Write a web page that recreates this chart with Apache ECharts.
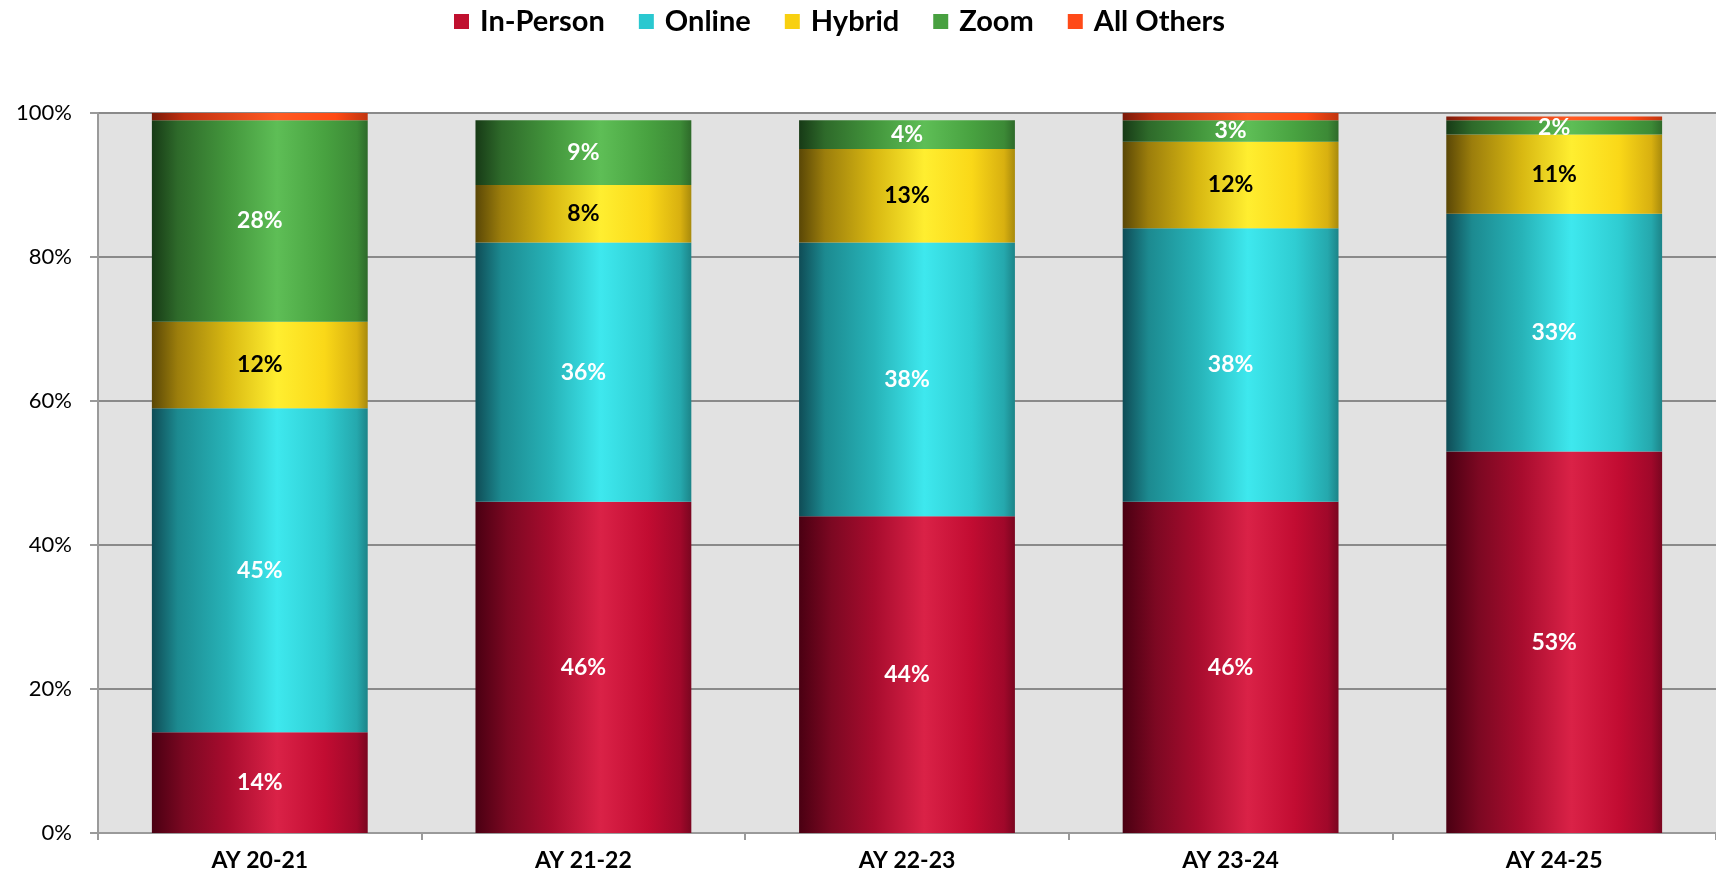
<!DOCTYPE html>
<html>
<head>
<meta charset="utf-8">
<style>
html,body{margin:0;padding:0;background:#fff;}
#chart{width:1716px;height:881px;}
</style>
<script src="https://cdn.jsdelivr.net/npm/echarts@6/dist/echarts.min.js"></script>
</head>
<body>
<div id="chart"></div>
<script>
const categories = ['AY 20-21', 'AY 21-22', 'AY 22-23', 'AY 23-24', 'AY 24-25'];
const inPerson = [14, 46, 44, 46, 53];
const online = [45, 36, 38, 38, 33];
const hybrid = [12, 8, 13, 12, 11];
const zoom = [28, 9, 4, 3, 2];
const allOthers = [1, 0, 0, 1, 0.5];
const yTicks = [0, 20, 40, 60, 80, 100];

const FONT = 'Lato, "Open Sans", sans-serif';

function grad(stops) {
  return {
    type: 'linear', x: 0, y: 0, x2: 1, y2: 0,
    colorStops: stops.map(s => ({ offset: s[0], color: s[1] }))
  };
}

const styles = {
  'In-Person': { legend: '#c0102f', text: '#ffffff', g: grad([[0, '#4a0012'], [0.15, '#7c0822'], [0.35, '#a80c2e'], [0.58, '#da2247'], [0.8, '#c20c32'], [0.95, '#a0082a'], [1, '#7a0620']]) },
  'Online': { legend: '#2ac8d0', text: '#ffffff', g: grad([[0, '#0f4c56'], [0.12, '#1c8a90'], [0.35, '#27b3b8'], [0.58, '#3ee8ee'], [0.8, '#2fcdd2'], [0.95, '#25a8ad'], [1, '#1c8488']]) },
  'Hybrid': { legend: '#f8d010', text: '#000000', g: grad([[0, '#5a4706'], [0.12, '#9c7e0c'], [0.35, '#d8b812'], [0.58, '#ffee30'], [0.8, '#fad818'], [0.95, '#d8b010'], [1, '#a88a0c']]) },
  'Zoom': { legend: '#48a040', text: '#ffffff', g: grad([[0, '#173a16'], [0.12, '#2e6a2a'], [0.35, '#43963c'], [0.58, '#5ebe56'], [0.8, '#48a240'], [0.95, '#3c8a36'], [1, '#2e6a2a']]) },
  'All Others': { legend: '#ff4a18', text: '#ffffff', g: grad([[0, '#7a1a08'], [0.15, '#c03010'], [0.58, '#ff5a22'], [0.85, '#ff4a14'], [1, '#c03510']]) }
};

const seriesData = [
  ['In-Person', inPerson],
  ['Online', online],
  ['Hybrid', hybrid],
  ['Zoom', zoom],
  ['All Others', allOthers]
];

const series = seriesData.map(([name, data]) => ({
  name: name,
  type: 'bar',
  stack: 'total',
  barWidth: '66.7%',
  data: data,
  itemStyle: { color: styles[name].g },
  label: {
    show: name !== 'All Others',
    position: 'inside',
    color: styles[name].text,
    fontFamily: FONT,
    fontWeight: 'bold',
    fontSize: 23,
    formatter: p => (p.value >= 2 ? Math.round(p.value) + '%' : '')
  },
  emphasis: { disabled: true }
}));

const chart = echarts.init(document.getElementById('chart'), null, { renderer: 'canvas' });
chart.setOption({
  animation: false,
  backgroundColor: '#ffffff',
  legend: {
    top: 2,
    left: 449,
    icon: 'rect',
    itemWidth: 15,
    itemHeight: 15,
    itemGap: 34,
    textStyle: { fontFamily: FONT, fontWeight: 'bold', fontSize: 29, color: '#000', padding: [0, 0, 0, 6] },
    data: seriesData.map(([name]) => ({ name: name, itemStyle: { color: styles[name].legend } }))
  },
  grid: {
    left: 98, top: 113, right: 0, bottom: 48,
    show: true, backgroundColor: '#e2e2e2', borderWidth: 0
  },
  xAxis: {
    type: 'category',
    data: categories,
    axisLine: { show: true, lineStyle: { color: '#9a9a9a', width: 2 } },
    axisTick: { show: true, length: 7, lineStyle: { color: '#9a9a9a', width: 2 } },
    axisLabel: { fontFamily: FONT, fontWeight: 'bold', fontSize: 23, color: '#000', margin: 16 }
  },
  yAxis: {
    type: 'value',
    min: 0, max: 100, interval: 20,
    axisLine: { show: true, lineStyle: { color: '#9a9a9a', width: 2 } },
    axisTick: { show: true, length: 8, lineStyle: { color: '#9a9a9a', width: 2 } },
    splitLine: { show: true, lineStyle: { color: '#8a8a8a', width: 2 } },
    axisLabel: {
      fontFamily: FONT, fontSize: 22, color: '#000', margin: 26,
      formatter: v => (yTicks.includes(v) ? v + '%' : '')
    }
  },
  series: series
});
</script>
</body>
</html>
